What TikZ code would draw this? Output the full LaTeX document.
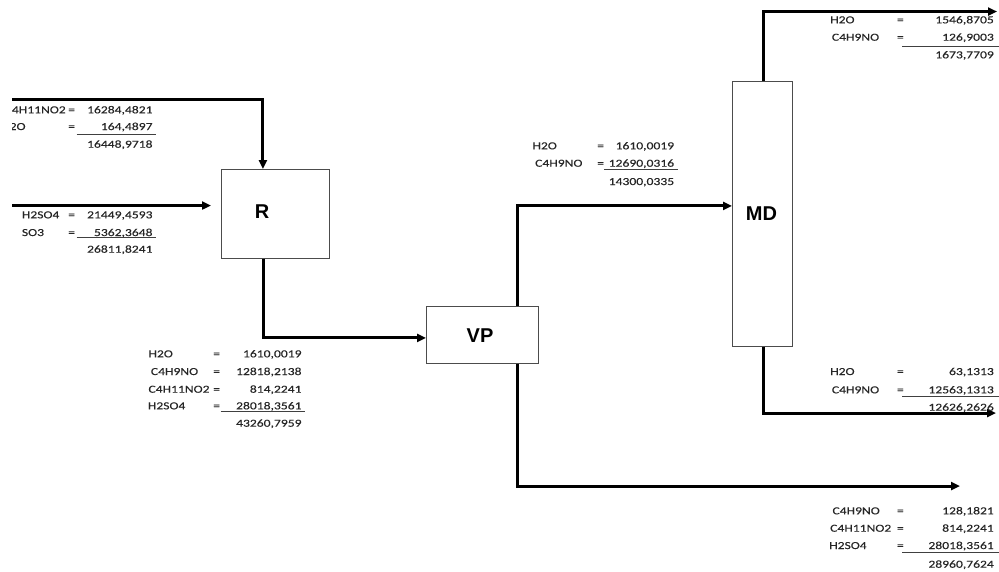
\documentclass[tikz,border=0pt]{standalone}
\usepackage{fontspec}
\setmainfont{Carlito}
\newfontfamily\tblfont[FakeStretch=1.27,FakeBold=0.3]{Carlito}
\newfontfamily\lblfont{Liberation Sans}
\usetikzlibrary{arrows.meta}
% one table row: #1 id, #2 name x, #3 "=" x, #4 value right x, #5 baseline y, #6 name, #7 value
\newcommand\flowrow[7]{%
  \node[txt,anchor=base west] (#1n) at (#2,#5) {#6};
  \node[txt,anchor=base west] (#1e) at (#3,#5) {=};
  \node[txt,anchor=base east] (#1v) at (#4,#5) {#7};}
\newcommand\flowtotal[4]{% #1 id, #2 right x, #3 baseline y, #4 value
  \node[txt,anchor=base east] (#1) at (#2,#3) {#4};}
\begin{document}
\begin{tikzpicture}[x=1pt,y=-1pt,
  txt/.style={font=\tblfont\fontsize{10.7}{12}\selectfont, text=black!85, inner sep=0pt},
  unit/.style={draw=black!70, line width=0.9pt, fill=white, inner sep=0pt, anchor=north west},
  lbl/.style={font=\lblfont\bfseries\fontsize{20}{24}\selectfont, inner sep=0pt},
  flow/.style={line width=3pt, -{Triangle[length=9pt,width=8pt]}},
  uline/.style={draw=black!75, line width=0.8pt}]
\useasboundingbox (0,0) rectangle (999,571);
\clip (12,0) rectangle (999,571);

% units
\node[unit, minimum width=108pt, minimum height=89pt] (R) at (221,169) {};
\node[unit, minimum width=112pt, minimum height=57pt] (VP) at (426,306) {};
\node[unit, minimum width=60pt, minimum height=265pt] (MD) at (732,81) {};
\node[lbl] (Rl) at (262,212) {R};
\node[lbl] (VPl) at (480,336) {VP};
\node[lbl] (MDl) at (761.5,213.5) {MD};

% free ends
\coordinate (in1) at (0,99.5);
\coordinate (in2) at (0,205.5);
\coordinate (out1) at (997,11.5);
\coordinate (out2) at (996,413);
\coordinate (out3) at (960,486);

% streams
\draw[flow] (in1) -| ([xshift=-12.5pt]R.north);
\draw[flow, shorten >=10pt] (in2) -- (in2 -| R.west);
\draw[flow] ([xshift=-12pt]R.south) |- ([yshift=-3pt]VP.west);
\draw[flow] ([xshift=35.5pt]VP.north) |- ([yshift=8pt]MD.west);
\draw[flow] ([xshift=1pt]MD.north) |- (out1);
\draw[flow] ([xshift=1pt]MD.south) |- (out2);
\draw[flow] ([xshift=35.5pt]VP.south) |- (out3);

% table 1
\flowrow{ta}{4.5}{68}{152.7}{113.3}{C4H11NO2}{16284,4821}
\flowrow{tb}{1}{68}{152.7}{130}{H2O}{164,4897}
\draw[uline] (76.7,134) -- (156,134);
\flowtotal{tc}{152.7}{147.7}{16448,9718}

% table 2
\flowrow{ua}{21.7}{68}{152.7}{218.3}{H2SO4}{21449,4593}
\flowrow{ub}{21.7}{68}{152.7}{236}{SO3}{5362,3648}
\draw[uline] (76.7,237.5) -- (156,237.5);
\flowtotal{uc}{152.7}{252.7}{26811,8241}

% table 3
\flowrow{va}{148.3}{213}{301.7}{357.3}{H2O}{1610,0019}
\flowrow{vb}{150.7}{213}{301.7}{375}{C4H9NO}{12818,2138}
\flowrow{vc}{148.3}{213}{301.7}{392.7}{C4H11NO2}{814,2241}
\flowrow{vd}{147.7}{213}{301.7}{409.3}{H2SO4}{28018,3561}
\draw[uline] (220.7,411.7) -- (305,411.7);
\flowtotal{ve}{301.7}{426.7}{43260,7959}

% table 4
\flowrow{wa}{532.3}{597}{674.3}{149.3}{H2O}{1610,0019}
\flowrow{wb}{535}{597}{674.3}{166.7}{C4H9NO}{12690,0316}
\draw[uline] (604.3,169.3) -- (677.7,169.3);
\flowtotal{wc}{674.3}{185}{14300,0335}

% table 5
\flowrow{xa}{830}{896.7}{994}{23.3}{H2O}{1546,8705}
\flowrow{xb}{831.7}{896.7}{994}{40.7}{C4H9NO}{126,9003}
\draw[uline] (902,46.7) -- (999,46.7);
\flowtotal{xc}{994}{58.3}{1673,7709}

% table 6
\flowrow{ya}{830}{896.7}{994}{375}{H2O}{63,1313}
\flowrow{yb}{831.7}{896.7}{994}{393.3}{C4H9NO}{12563,1313}
\draw[uline] (902,396.7) -- (999,396.7);
\flowtotal{yc}{994}{410.7}{12626,2626}

% table 7
\flowrow{za}{832.3}{896.7}{994}{514.3}{C4H9NO}{128,1821}
\flowrow{zb}{830}{896.7}{994}{531.7}{C4H11NO2}{814,2241}
\flowrow{zc}{829}{896.7}{994}{549}{H2SO4}{28018,3561}
\draw[uline] (902,552.7) -- (999,552.7);
\flowtotal{zd}{994}{567.7}{28960,7624}
\end{tikzpicture}
\end{document}
